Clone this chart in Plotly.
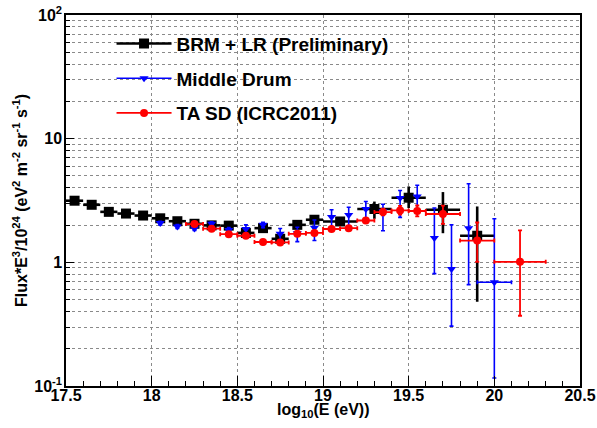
import plotly.graph_objects as go

# ---------------- data ----------------
# BRM + LR (Preliminary)
brm_x = [17.55, 17.65, 17.75, 17.85, 17.95, 18.05, 18.15, 18.25, 18.35, 18.45,
         18.55, 18.65, 18.75, 18.85, 18.95, 19.1, 19.3, 19.5, 19.7, 19.9]
brm_xerr = [0.05, 0.05, 0.05, 0.05, 0.05, 0.05, 0.05, 0.05, 0.05, 0.05,
            0.05, 0.05, 0.05, 0.05, 0.05, 0.1, 0.1, 0.1, 0.1, 0.1]
brm_y = [3.15, 2.92, 2.56, 2.48, 2.39, 2.27, 2.15, 2.05, 1.99, 1.98,
         1.73, 1.89, 1.55, 2.01, 2.21, 2.14, 2.70, 3.33, 2.66, 1.64]
brm_eup = [0.06, 0.06, 0.05, 0.05, 0.05, 0.05, 0.05, 0.05, 0.06, 0.06,
           0.07, 0.09, 0.10, 0.11, 0.13, 0.18, 0.40, 0.78, 1.04, 1.19]
brm_edn = [0.06, 0.06, 0.05, 0.05, 0.05, 0.05, 0.05, 0.05, 0.06, 0.06,
           0.07, 0.09, 0.09, 0.10, 0.12, 0.16, 0.45, 0.58, 0.94, 1.16]

# Middle Drum
md_x = [18.05, 18.15, 18.25, 18.35, 18.45, 18.55, 18.65, 18.75, 18.85, 18.95,
        19.05, 19.15, 19.25, 19.35, 19.45, 19.55, 19.65, 19.75, 19.85, 20.0]
md_xerr = [0, 0, 0, 0, 0, 0, 0, 0, 0, 0,
           0, 0, 0, 0, 0, 0, 0, 0, 0, 0.1]
md_y = [2.08, 1.95, 1.88, 2.05, 1.83, 1.86, 2.01, 1.70, 1.72, 1.90,
        2.33, 2.41, 2.70, 2.60, 3.31, 3.40, 1.57, 0.885, 1.89, 0.69]
md_eup = [0.07, 0.07, 0.07, 0.08, 0.08, 0.15, 0.10, 0.18, 0.20, 0.30,
          0.33, 0.38, 0.40, 0.35, 0.50, 0.80, 1.18, 1.13, 2.43, 1.56]
md_edn = [0.07, 0.07, 0.07, 0.08, 0.08, 0.16, 0.10, 0.27, 0.25, 0.40,
          0.45, 0.53, 0.45, 0.80, 1.00, 0.90, 0.76, 0.58, 1.23, 0.574]

# TA SD (ICRC2011)
sd_x = [18.25, 18.35, 18.45, 18.55, 18.65, 18.75, 18.85, 18.95, 19.05, 19.15,
        19.25, 19.35, 19.45, 19.55, 19.7, 19.9, 20.15]
sd_xerr = [0.05, 0.05, 0.05, 0.05, 0.05, 0.05, 0.05, 0.05, 0.05, 0.05,
           0.05, 0.05, 0.05, 0.05, 0.1, 0.1, 0.15]
sd_y = [2.04, 1.87, 1.69, 1.64, 1.46, 1.45, 1.70, 1.73, 1.86, 1.89,
        2.18, 2.55, 2.63, 2.60, 2.46, 1.50, 1.01]
sd_eup = [0.04, 0.04, 0.04, 0.04, 0.04, 0.04, 0.05, 0.05, 0.06, 0.07,
          0.09, 0.17, 0.23, 0.28, 0.41, 0.60, 0.80]
sd_edn = [0.04, 0.04, 0.04, 0.04, 0.04, 0.04, 0.05, 0.05, 0.06, 0.07,
          0.09, 0.15, 0.20, 0.25, 0.41, 0.49, 0.64]

series_names = ["BRM + LR (Preliminary)", "Middle Drum", "TA SD (ICRC2011)"]

x_tickvals = [17.5, 18, 18.5, 19, 19.5, 20, 20.5]
x_ticktext = ["17.5", "18", "18.5", "19", "19.5", "20", "20.5"]
y_tickvals = [0.1, 1, 10, 100]
y_ticktext = ["10<sup>-1</sup>", "1", "10", "10<sup>2</sup>"]

x_title = "log<sub>10</sub>(E (eV))"
y_title = ("Flux*E<sup>3</sup>/10<sup>24</sup> (eV<sup>2</sup> m<sup>-2</sup> "
           "sr<sup>-1</sup> s<sup>-1</sup>)")

FONT = "Liberation Sans, Arial, Helvetica, sans-serif"

fig = go.Figure()

def add_series(name, x, xe, y, eup, edn, color, symbol, size, cap, thick, group):
    fig.add_trace(go.Scatter(
        x=x, y=y, mode="markers", showlegend=False,
        marker=dict(color=color, symbol=symbol, size=size, line=dict(width=0)),
        error_x=dict(type="data", symmetric=True, array=xe, color=color,
                     thickness=thick, width=cap),
        error_y=dict(type="data", symmetric=False, array=eup, arrayminus=edn,
                     color=color, thickness=thick, width=cap),
    ))
    # legend entry (line + marker sample)
    fig.add_trace(go.Scatter(
        x=[None], y=[None], mode="lines+markers", name=name,
        legendgroup=group,
        line=dict(color=color, width=thick),
        marker=dict(color=color, symbol=symbol, size=size),
    ))

add_series(series_names[0], brm_x, brm_xerr, brm_y, brm_eup, brm_edn,
           "#000000", "square", 10, 0, 2.6, "a")
add_series(series_names[1], md_x, md_xerr, md_y, md_eup, md_edn,
           "#0000ff", "triangle-down", 8, 2, 1.6, "b")
add_series(series_names[2], sd_x, sd_xerr, sd_y, sd_eup, sd_edn,
           "#ff0000", "circle", 8, 2, 1.8, "c")

grid_color = "#8a8a8a"

fig.update_layout(
    width=597, height=428,
    margin=dict(l=66, r=17, t=15, b=42, autoexpand=False),
    paper_bgcolor="white", plot_bgcolor="white",
    font=dict(family=FONT, color="black", size=16, weight="bold"),
    showlegend=True,
    legend=dict(
        x=0.0886, y=0.974, xanchor="left", yanchor="top",
        bgcolor="rgba(0,0,0,0)", borderwidth=0,
        font=dict(family=FONT, size=19, weight="bold", color="black"),
        itemwidth=55, traceorder="grouped", tracegroupgap=7,
    ),
    xaxis=dict(
        range=[17.5, 20.5], automargin=False,
        tickmode="array", tickvals=x_tickvals, ticktext=x_ticktext,
        ticks="inside", ticklen=10, tickcolor="black", tickwidth=1,
        ticklabeloverflow="allow", ticklabelstandoff=-6,
        showline=True, linecolor="black", linewidth=1.5, mirror=True,
        showgrid=True, gridcolor=grid_color, griddash="dot", gridwidth=1,
        zeroline=False,
        tickfont=dict(family=FONT, size=16, weight="bold"),
        minor=dict(dtick=0.1, tick0=17.5, ticks="inside", ticklen=5,
                   tickcolor="black", showgrid=False),
    ),
    yaxis=dict(
        type="log", range=[-1, 2], automargin=False,
        tickmode="array", tickvals=y_tickvals, ticktext=y_ticktext,
        ticks="inside", ticklen=8, tickcolor="black", tickwidth=1,
        ticklabeloverflow="allow", ticklabelstandoff=-1,
        showline=True, linecolor="black", linewidth=1.5, mirror=True,
        showgrid=True, gridcolor=grid_color, griddash="dot", gridwidth=1,
        zeroline=False,
        tickfont=dict(family=FONT, size=16, weight="bold"),
        minor=dict(dtick="D1", ticks="inside", ticklen=4, tickcolor="black",
                   showgrid=True, gridcolor=grid_color, griddash="dot",
                   gridwidth=1),
    ),
    annotations=[
        dict(text=x_title, xref="paper", yref="paper", x=0.5, y=-0.036,
             xanchor="center", yanchor="top", showarrow=False,
             font=dict(family=FONT, size=16, weight="bold")),
        dict(text=y_title, xref="paper", yref="paper", x=-0.0905, y=0.5,
             xanchor="center", yanchor="middle", showarrow=False, textangle=-90,
             font=dict(family=FONT, size=16, weight="bold")),
    ],
)

# remove the browser's default 8px body margin so the 597x428 figure fills the window
fig.write_html("out.html",
               config={"displayModeBar": False},
               post_script="document.body.style.margin='0';document.body.style.padding='0';")
